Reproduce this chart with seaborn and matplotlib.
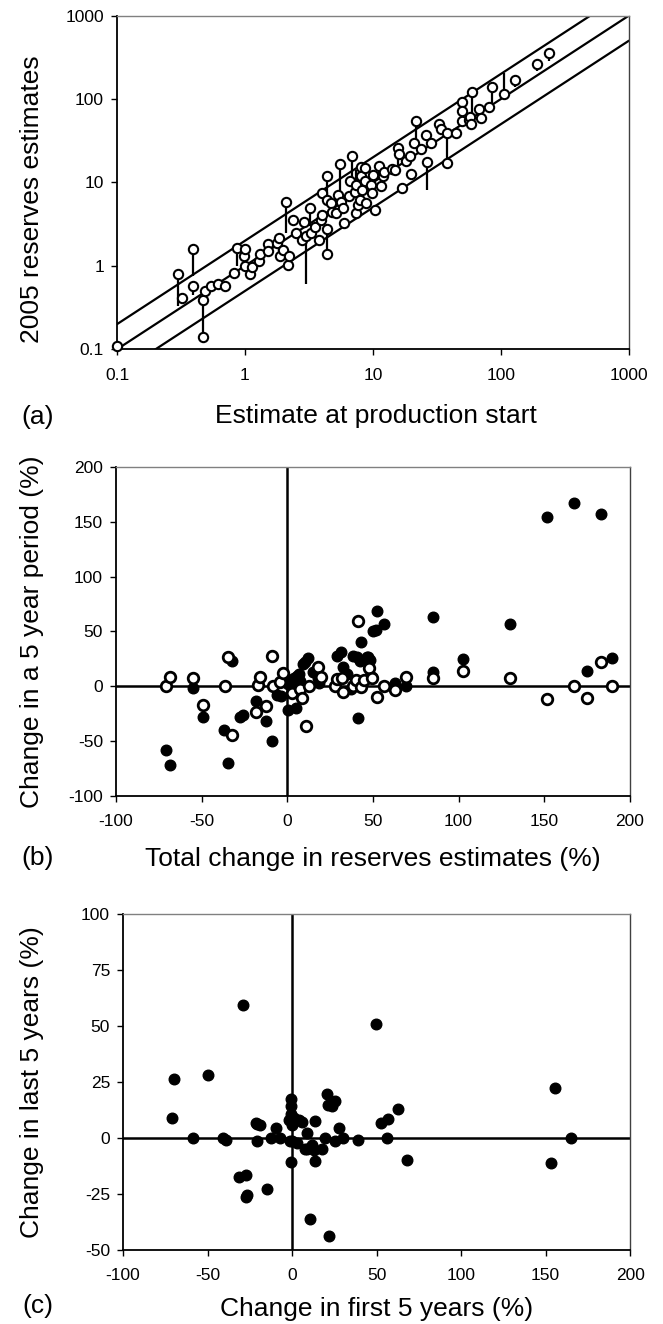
import numpy as np
import matplotlib
matplotlib.use("Agg")
import matplotlib.pyplot as plt
import seaborn as sns

sns.set_style("ticks")
plt.rcParams["font.family"] = ["Liberation Sans", "DejaVu Sans"]
plt.rcParams["axes.unicode_minus"] = False
plt.rcParams["text.color"] = "black"
plt.rcParams["axes.labelcolor"] = "black"
plt.rcParams["xtick.color"] = "black"
plt.rcParams["ytick.color"] = "black"

nan = np.nan

# (a) reserves: estimate at production start vs 2005 estimate, stem to the other estimate
start_est = [0.10, 0.30, 0.32, 0.39, 0.39, 0.47, 0.47, 0.49, 0.54, 0.61, 0.70, 0.82, 0.87, 0.98,
             1.00, 1.00, 1.09, 1.13, 1.29, 1.30, 1.50, 1.50, 1.77, 1.85, 1.87, 1.97, 2.10, 2.15,
             2.20, 2.37, 2.50, 2.80, 2.87, 3.00, 3.20, 3.30, 3.50, 3.77, 3.90, 4.00, 4.03, 4.40,
             4.40, 4.40, 4.40, 4.70, 4.80, 5.10, 5.30, 5.55, 5.60, 5.80, 5.94, 6.45, 6.60, 6.90,
             7.20, 7.40, 7.40, 7.60, 7.90, 8.00, 8.00, 8.20, 8.70, 8.70, 8.90, 9.60, 9.90, 10.1,
             10.4, 11.2, 11.5, 11.9, 12.3, 14.0, 15.0, 15.6, 16.0, 16.9, 18.2, 19.5, 19.9, 20.9,
             21.8, 23.6, 26.2, 26.5, 28.3, 32.9, 34.0, 37.7, 37.7, 44.6, 49.5, 50.0, 49.5, 56.0,
             57.0, 58.0, 59.6, 68.0, 70.0, 81.0, 85.0, 105, 129, 192, 238]
est_2005 = [0.11, 0.80, 0.41, 1.59, 0.57, 0.14, 0.39, 0.50, 0.58, 0.61, 0.58, 0.82, 1.64, 1.30,
            1.59, 1.00, 0.80, 0.98, 1.15, 1.37, 1.82, 1.52, 1.87, 2.15, 1.30, 1.56, 5.9, 1.03,
            1.30, 3.57, 2.50, 2.06, 3.40, 2.30, 4.9, 2.50, 2.90, 2.06, 3.57, 4.10, 7.45, 11.8,
            6.2, 2.8, 1.37, 5.7, 4.4, 4.3, 7.1, 16.8, 5.9, 5.0, 3.3, 6.8, 10.3, 20.5,
            7.6, 9.4, 4.3, 5.4, 6.2, 15.5, 12.0, 8.2, 14.9, 10.3, 5.7, 9.4, 7.4, 12.3,
            4.7, 15.8, 9.0, 12.0, 13.5, 14.4, 14.2, 25.8, 21.7, 8.5, 18.2, 20.5, 12.7, 29.6,
            55.0, 25.0, 37.0, 17.5, 30.0, 50.0, 44.0, 39.7, 17.0, 39.7, 93.0, 71.0, 55.0, 56.0,
            61.0, 50.0, 123, 75.6, 59.0, 81.0, 141, 114, 170, 263, 354]
stem_end = [nan, 0.33, nan, 0.75, 0.45, 0.39, nan, nan, nan, nan, nan, nan, 0.99, nan,
            1.00, nan, nan, nan, nan, 1.10, 1.50, nan, nan, 1.50, nan, nan, 2.47, nan,
            nan, nan, nan, nan, nan, 0.60, 3.0, nan, nan, nan, nan, nan, nan, 6.2,
            nan, nan, 2.5, nan, nan, nan, nan, 6.8, nan, nan, nan, nan, nan, 11.7,
            nan, 14.0, nan, nan, nan, nan, nan, nan, nan, nan, nan, nan, nan, nan,
            nan, 11.0, nan, nan, nan, nan, nan, 16.0, nan, nan, nan, nan, nan, nan,
            27.0, nan, nan, 8.2, nan, nan, nan, 17.0, nan, nan, 55.0, nan, nan, nan,
            nan, nan, 42.0, nan, nan, nan, 89.0, 204, 138, 214, 282]
ratio_lines = [2.0, 1.0, 0.5]

# (b) total change vs change in a 5 year period
b_total_last = [-71, -68.7, -54.9, -49, -36.4, -34.4, -32, -18.3, -17.3, -15.9, -12.6, -8.7, -8.5,
                -4.3, -2.7, 2.6, 7.4, 8.4, 10.9, 12.8, 18.1, 19.9, 27.8, 29, 31.8, 32.7, 38.5, 40,
                41.1, 43, 45, 47.8, 49.2, 52.3, 56.4, 62.9, 69.1, 85.3, 102.3, 130, 151.4, 167.5,
                174.7, 183.3, 189.7]
b_change_last = [0, 8.9, 7.7, -17, 0, 26.9, -44.2, -23.8, 0.8, 8.2, -18.3, 28, 0,
                 4, 11.9, -6.4, -2, -11, -36.5, 0, 17.2, 8.9, 0, 7, 7.3, -5.3, 0, 6,
                 59.5, -1, 6, 16.6, 7.5, -10, 0, -3.3, 8.2, 7.5, 13.7, 7.9, -11.5, 0,
                 -11, 22, 0]
b_total_first = [-71, -68.7, -54.9, -49, -36.8, -34.4, -32, -27.6, -25.7, -18.3, -17.3, -12.6, -8.7,
                 -6.2, -3.9, 0.6, 4.9, 0.6, 2.1, 1.6, 4.1, 5.5, 7, 7.4, 9.3, 10.3, 12.2, 15, 18.5,
                 18, 28.8, 31.1, 32.7, 34.7, 38.5, 40.5, 42.4, 43, 46.3, 48.1, 47.3, 48, 49.2, 50.2,
                 51.5, 52.1, 56.4, 41.1, 37, 40.5, 62.9, 69.1, 85.2, 85.2, 102.3, 130, 151.4, 167.5,
                 183.3, 174.7, 189.7]
b_change_first = [-58.2, -71.6, -1.8, -27.7, -39.6, -69.5, 22.9, -27.7, -26.2, -13.1, 1.6, -31.4, -50.3,
                  -7.9, -9.1, -21.3, -19.8, 2.2, 3, 6, 7.3, 9, 11.3, 5, 20.5, 21.9, 26, 13, 3,
                  8, 28, 31.5, 18, 11, 28, 26.5, 23, 40.3, 26.5, 24, 26.5, 9, 8.2, 50.3,
                  51.5, 68.6, 57, -29, -2, 5, 2.8, 0.4, 63, 12.8, 25, 57, 154.6, 166.9,
                  157, 14.4, 25.6]

# (c) change in first 5 years vs change in last 5 years
c_first = [-71.3, -69.8, -58.6, -49.8, -41, -39, -31.2, -29.3, -27.3, -27.3, -26.4, -21.1, -20.5,
           -19.1, -20.5, -14.7, -12.3, -9.2, -7.4, -0.4, -0.4, -0.9, -1.9, 0.1, 1, 3.9, 5.8,
           -1.4, 0, 2.9, -0.4, 9.1, 7.8, 8.8, 11.8, 13.2, 13.7, 13.7, 17.6, 19.6, 20.5, 21.5,
           23.5, 25.4, 28, 25.4, 30.3, 39.3, 10.8, 22.1, 49.8, 52.8, 56.7, 56.1, 62.5, 67.8,
           153.4, 155.3, 165.1]
c_last = [8.7, 26.5, 0, 28.3, 0, -0.7, -17.4, 59.3, -16.7, -26.4, -25.6, 6.9, 6.4,
          5.7, -1.5, -22.6, 0, 4.5, 0, 17.3, 14.3, 10.8, 7.9, 5.7, 8.7, 7.9, 7,
          -1.5, -1.5, -2.1, -10.7, 2, -4.8, -4.9, -3.3, -5.5, -10.2, 7.6, -4.8, 0, 19.7, 14.9,
          14.3, 16.6, 4.5, -1.5, 0, -0.8, -36, -43.8, 50.7, 6.7, 8.3, 0, 13.1, -10,
          -11.2, 22.5, 0]


def style_axes(ax):
    for side in ["left", "bottom"]:
        ax.spines[side].set_color("black")
        ax.spines[side].set_linewidth(1.3)
    ax.spines["top"].set_color("#808080")
    ax.spines["right"].set_color("#404040")
    ax.spines["top"].set_linewidth(1.0)
    ax.spines["right"].set_linewidth(1.0)
    ax.tick_params(direction="out", length=4.3, width=1, labelsize=12.5, color="black",
                   labelcolor="black")
    ax.tick_params(axis="x", pad=9)
    ax.tick_params(axis="y", pad=5)


fig = plt.figure(figsize=(6.63, 13.24), dpi=100)

# ---- panel (a)
ax = fig.add_axes([0.1765, 0.7362, 0.772, 0.252])
for r in ratio_lines:
    xs = np.array([0.1, 1000.0])
    ax.plot(xs, r * xs, color="black", lw=1.6, zorder=1)
ax.vlines(start_est, est_2005, stem_end, color="black", lw=1.6, zorder=2)
sns.scatterplot(x=start_est, y=est_2005, ax=ax, s=45, color="white", edgecolor="black",
                linewidth=1.5, zorder=3, clip_on=False)
ax.set_xscale("log")
ax.set_yscale("log")
ax.set_xlim(0.1, 1000)
ax.set_ylim(0.1, 1000)
ax.set_xticks([0.1, 1, 10, 100, 1000])
ax.set_yticks([0.1, 1, 10, 100, 1000])
ax.set_xticklabels(["0.1", "1", "10", "100", "1000"])
ax.set_yticklabels(["0.1", "1", "10", "100", "1000"])
ax.minorticks_off()
style_axes(ax)
ax.set_xlabel("Estimate at production start", fontsize=19)
ax.set_ylabel("2005 reserves estimates", fontsize=19)
ax.xaxis.set_label_coords(0.506, -0.2)
ax.xaxis.label.set_va("center")
ax.yaxis.set_label_coords(-0.166, 0.45)
ax.yaxis.label.set_va("center")

# ---- panel (b)
ax = fig.add_axes([0.175, 0.3988, 0.775, 0.2485])
ax.axhline(0, color="black", lw=1.8, zorder=1)
ax.axvline(0, color="black", lw=1.8, zorder=1)
sns.scatterplot(x=b_total_first, y=b_change_first, ax=ax, s=58, color="black",
                edgecolor="black", linewidth=1, zorder=2, clip_on=False)
sns.scatterplot(x=b_total_last, y=b_change_last, ax=ax, s=58, color="white",
                edgecolor="black", linewidth=2.0, zorder=3, clip_on=False)
ax.set_xlim(-100, 200)
ax.set_ylim(-100, 200)
ax.set_xticks(np.arange(-100, 201, 50))
ax.set_yticks(np.arange(-100, 201, 50))
style_axes(ax)
ax.set_xlabel("Total change in reserves estimates (%)", fontsize=19)
ax.set_ylabel("Change in a 5 year period (%)", fontsize=19)
ax.xaxis.set_label_coords(0.5, -0.19)
ax.xaxis.label.set_va("center")
ax.yaxis.set_label_coords(-0.163, 0.5)
ax.yaxis.label.set_va("center")

# ---- panel (c)
ax = fig.add_axes([0.1855, 0.0559, 0.765, 0.2538])
ax.axhline(0, color="black", lw=1.8, zorder=1)
ax.axvline(0, color="black", lw=1.8, zorder=1)
sns.scatterplot(x=c_first, y=c_last, ax=ax, s=58, color="black", edgecolor="black",
                linewidth=1, zorder=2, clip_on=False)
ax.set_xlim(-100, 200)
ax.set_ylim(-50, 100)
ax.set_xticks(np.arange(-100, 201, 50))
ax.set_yticks(np.arange(-50, 101, 25))
style_axes(ax)
ax.set_xlabel("Change in first 5 years (%)", fontsize=19)
ax.set_ylabel("Change in last 5 years (%)", fontsize=19)
ax.xaxis.set_label_coords(0.5, -0.175)
ax.xaxis.label.set_va("center")
ax.yaxis.set_label_coords(-0.18, 0.5)
ax.yaxis.label.set_va("center")

# panel letters
fig.text(38 / 663, 1 - 417 / 1324, "(a)", fontsize=19, ha="center", va="center")
fig.text(38 / 663, 1 - 858 / 1324, "(b)", fontsize=19, ha="center", va="center")
fig.text(38 / 663, 1 - 1306 / 1324, "(c)", fontsize=19, ha="center", va="center")

fig.savefig("out.png", dpi=100)
